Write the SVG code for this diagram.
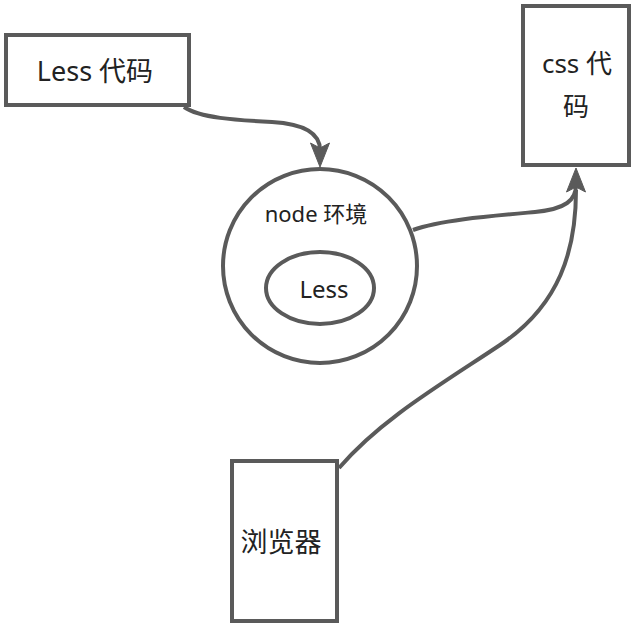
<svg xmlns="http://www.w3.org/2000/svg" width="638" height="626" viewBox="0 0 638 626">
<defs>
<style>
.n{fill:#ffffff;stroke:#5a5a5a;stroke-width:4}
.t{font-family:"Noto Sans","Noto Sans CJK SC",sans-serif;fill:#222;text-anchor:middle}
.c{fill:none;stroke:#5a5a5a;stroke-width:4}
.a{fill:#5a5a5a;stroke:#5a5a5a;stroke-width:1;stroke-linejoin:round}
</style>
</defs>
<rect width="638" height="626" fill="#ffffff"/>
<g id="connectors">
<path class="c" d="M184,107 C200,118 235,120 272,122 C306,124 320,134 320,150"/>
<polygon class="a" points="320,167 310.5,143 320,148 329.5,143"/>
<path class="c" d="M413,230 C440,220 490,216 535,212 C566,209 576,200 576,185"/>
<path class="c" d="M339,468 C380,420 440,385 500,345 C560,305 576,250 576,190"/>
<polygon class="a" points="576,168 566.5,192 576,187 585.5,192"/>
</g>
<g id="less-code">
<rect class="n" x="6" y="35" width="183" height="70"/>
<text class="t" x="95" y="81" font-size="27">Less 代码</text>
</g>
<g id="css-code">
<rect class="n" x="523" y="6" width="106" height="159"/>
<text class="t" x="577" y="73" font-size="26">css 代</text>
<text class="t" x="576" y="116" font-size="26">码</text>
</g>
<g id="node-env">
<circle class="n" cx="320" cy="266" r="97"/>
<text class="t" x="316" y="222" font-size="22">node 环境</text>
</g>
<g id="less">
<ellipse class="n" cx="320" cy="288" rx="54" ry="36"/>
<text class="t" x="324" y="298" font-size="24">Less</text>
</g>
<g id="browser">
<rect class="n" x="232" y="461" width="105" height="160"/>
<text class="t" x="281" y="552" font-size="27">浏览器</text>
</g>
</svg>
